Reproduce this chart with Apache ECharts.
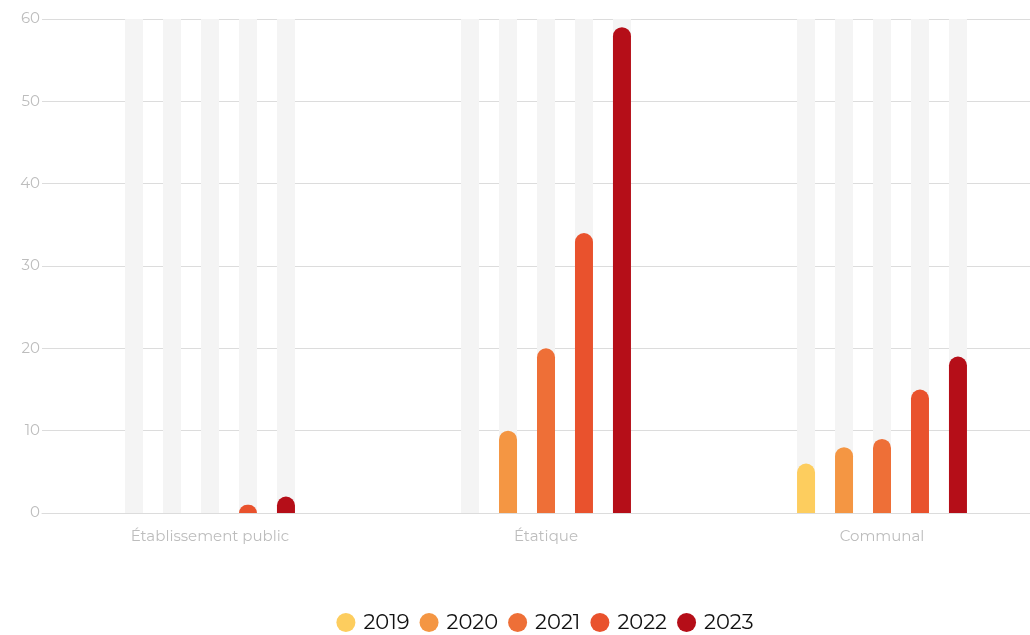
<!DOCTYPE html>
<html>
<head>
<meta charset="utf-8">
<script src="https://cdn.jsdelivr.net/npm/echarts@6/dist/echarts.min.js"></script>
<style>html,body{margin:0;padding:0;background:#fff;overflow:hidden;width:1030px;height:635px}#c{width:1090px;height:635px}</style>
</head>
<body>
<div id="c"></div>
<script>
const categories = ['Établissement public', 'Étatique', 'Communal'];
const years = ['2019', '2020', '2021', '2022', '2023'];
const v2019 = [0, 0, 6];
const v2020 = [0, 10, 8];
const v2021 = [0, 20, 9];
const v2022 = [1, 34, 15];
const v2023 = [2, 59, 19];
const yTicks = [0, 10, 20, 30, 40, 50, 60];
const colors = ['#fdcd5e', '#f49643', '#ee6f37', '#e9522d', '#b50e18'];
const values = [v2019, v2020, v2021, v2022, v2023];

const chart = echarts.init(document.getElementById('c'), null, {renderer: 'canvas'});
const font = "'Montserrat', 'Noto Sans', sans-serif";
chart.setOption({
  animation: false,
  color: colors,
  grid: {left: 42, right: 40, top: 19, bottom: 122},
  legend: {
    bottom: -3,
    left: 'center',
    icon: 'circle',
    itemWidth: 19,
    itemHeight: 19,
    itemGap: 10,
    textStyle: {fontSize: 21, color: '#111', fontFamily: font, padding: [0, 0, 0, 3]},
    data: years
  },
  xAxis: {
    type: 'category',
    data: categories,
    axisTick: {show: false},
    axisLine: {lineStyle: {color: '#dcdcdc'}},
    axisLabel: {color: '#bdbdbd', fontSize: 15, fontFamily: font, margin: 16}
  },
  yAxis: {
    type: 'value',
    min: yTicks[0],
    max: yTicks[yTicks.length - 1],
    interval: 10,
    axisLabel: {color: '#bdbdbd', fontSize: 15, fontFamily: font, margin: 2},
    splitLine: {lineStyle: {color: '#dcdcdc'}},
    axisLine: {show: false},
    axisTick: {show: false}
  },
  series: years.map((y, i) => ({
    name: y,
    type: 'bar',
    data: values[i],
    barWidth: 18,
    barGap: '111%',
    showBackground: true,
    backgroundStyle: {color: '#f4f4f4'},
    itemStyle: {color: colors[i], borderRadius: [9, 9, 0, 0]}
  }))
});
</script>
</body>
</html>
